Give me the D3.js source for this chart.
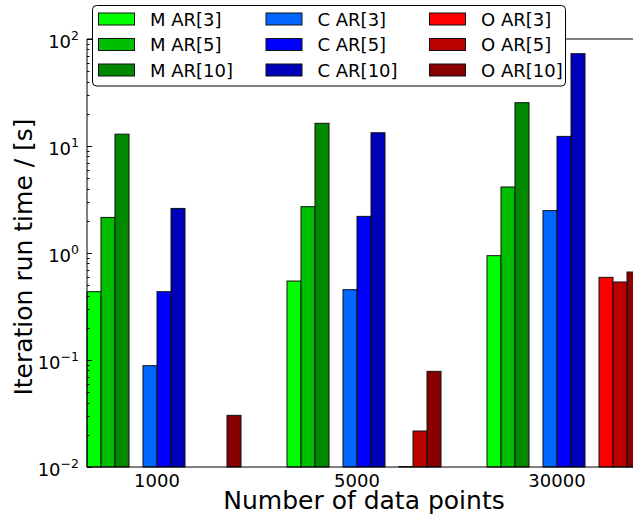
<!DOCTYPE html>
<html>
<head>
<meta charset="utf-8">
<script src="https://cdn.jsdelivr.net/npm/d3@7"></script>
<style>
  html, body { margin: 0; padding: 0; background: #fff; }
  svg { display: block; font-family: "DejaVu Sans", sans-serif; }
</style>
</head>
<body>
<svg id="chart" width="633" height="520"></svg>
<script>
// ---- data ----
const categories = ["1000", "5000", "30000"];
const seriesNames = ["M AR[3]", "M AR[5]", "M AR[10]", "C AR[3]", "C AR[5]", "C AR[10]", "O AR[3]", "O AR[5]", "O AR[10]"];
const seriesColors = ["#00ff00", "#00bf00", "#008800", "#0066ff", "#0000ff", "#0000bb", "#ff0000", "#bb0000", "#880000"];
const mAR3  = [0.435, 0.547, 0.944];
const mAR5  = [2.15, 2.71, 4.14];
const mAR10 = [12.9, 16.3, 25.4];
const cAR3  = [0.0885, 0.454, 2.49];
const cAR5  = [0.435, 2.2, 12.3];
const cAR10 = [2.61, 13.3, 72.9];
const oAR3  = [null, 0.0101, 0.592];
const oAR5  = [null, 0.0217, 0.536];
const oAR10 = [0.0304, 0.0783, 0.664];
const seriesValues = [mAR3, mAR5, mAR10, cAR3, cAR5, cAR10, oAR3, oAR5, oAR10];
const slotOffsets = [0, 1, 2, 4, 5, 6, 8, 9, 10];
const yTickExps = [-2, -1, 0, 1, 2];
const xLabel = "Number of data points";
const yLabel = "Iteration run time / [s]";

// ---- layout ----
const barW = 0.07;
const pL = 87, pR = 641, pT = 39, pB = 467;
const svg = d3.select("#chart");

const x = d3.scaleLinear().domain([0, categories.length - 1 + 11 * barW]).range([pL, pR]);
const y = d3.scaleLog().domain([0.01, 100]).range([pB, pT]);

// bars
const bars = [];
seriesValues.forEach((vals, s) => {
  vals.forEach((v, i) => {
    if (v == null) return;
    bars.push({ s, i, v });
  });
});
svg.append("g").selectAll("rect").data(bars).join("rect")
  .attr("x", d => x(d.i + slotOffsets[d.s] * barW))
  .attr("width", d => x(barW) - x(0))
  .attr("y", d => y(d.v))
  .attr("height", d => y(0.01) - y(d.v))
  .attr("fill", d => seriesColors[d.s])
  .attr("stroke", "#111")
  .attr("stroke-width", 1);

// spines
const sp = svg.append("g").attr("stroke", "#000").attr("stroke-width", 1).attr("fill", "none");
sp.append("line").attr("x1", pL).attr("x2", pL).attr("y1", pT).attr("y2", pB);
sp.append("line").attr("x1", pL).attr("x2", pR).attr("y1", pB).attr("y2", pB);
sp.append("line").attr("x1", pL).attr("x2", pR).attr("y1", pT).attr("y2", pT);

// y axis ticks (inward)
const minor = [];
for (let e = -2; e < 2; e++) for (let m = 2; m <= 9; m++) minor.push(m * Math.pow(10, e));
const tg = svg.append("g").attr("stroke", "#000").attr("stroke-width", 1);
tg.selectAll(".minor").data(minor).join("line")
  .attr("x1", pL).attr("x2", pL + 2.5)
  .attr("y1", d => Math.round(y(d)) + 0.5).attr("y2", d => Math.round(y(d)) + 0.5);
tg.selectAll(".major").data(yTickExps).join("line")
  .attr("x1", pL).attr("x2", pL + 5)
  .attr("y1", d => Math.round(y(Math.pow(10, d))) + 0.5).attr("y2", d => Math.round(y(Math.pow(10, d))) + 0.5);

// y tick labels
const yl = svg.append("g").selectAll("text").data(yTickExps).join("text")
  .attr("x", 79)
  .attr("y", d => y(Math.pow(10, d)) + 9)
  .attr("text-anchor", "end")
  .attr("font-size", 18)
  .attr("fill", "#000");
yl.append("tspan").text("10");
yl.append("tspan").attr("dy", -8).attr("font-size", 12.5).text(d => String(d).replace("-", "\u2212"));

// x tick labels
svg.append("g").selectAll("text").data(categories).join("text")
  .attr("x", (d, i) => x(i + 5 * barW))
  .attr("y", 486.5)
  .attr("text-anchor", "middle")
  .attr("font-size", 18)
  .attr("fill", "#000")
  .text(d => d);

// axis labels
svg.append("text")
  .attr("x", (pL + pR) / 2).attr("y", 508.5)
  .attr("text-anchor", "middle").attr("font-size", 25).attr("fill", "#000")
  .text(xLabel);
svg.append("text")
  .attr("transform", `translate(32,257) rotate(-90)`)
  .attr("text-anchor", "middle").attr("font-size", 25).attr("fill", "#000")
  .text(yLabel);

// legend
const lg = svg.append("g");
lg.append("rect").attr("x", 92.5).attr("y", 5.5).attr("width", 473).attr("height", 80.5)
  .attr("rx", 4).attr("fill", "#fff").attr("stroke", "#000").attr("stroke-width", 1);
const colX = [98, 265.5, 429];
const rowY = [19, 44.5, 70];
seriesNames.forEach((name, k) => {
  const c = Math.floor(k / 3), r = k % 3;
  lg.append("rect").attr("x", colX[c] + 0.5).attr("y", rowY[r] - 6).attr("width", 36).attr("height", 12)
    .attr("fill", seriesColors[k]).attr("stroke", "#111").attr("stroke-width", 1);
  lg.append("text").attr("x", colX[c] + 52).attr("y", rowY[r] + 6.5)
    .attr("font-size", 18).attr("fill", "#000").text(name);
});
</script>
</body>
</html>
